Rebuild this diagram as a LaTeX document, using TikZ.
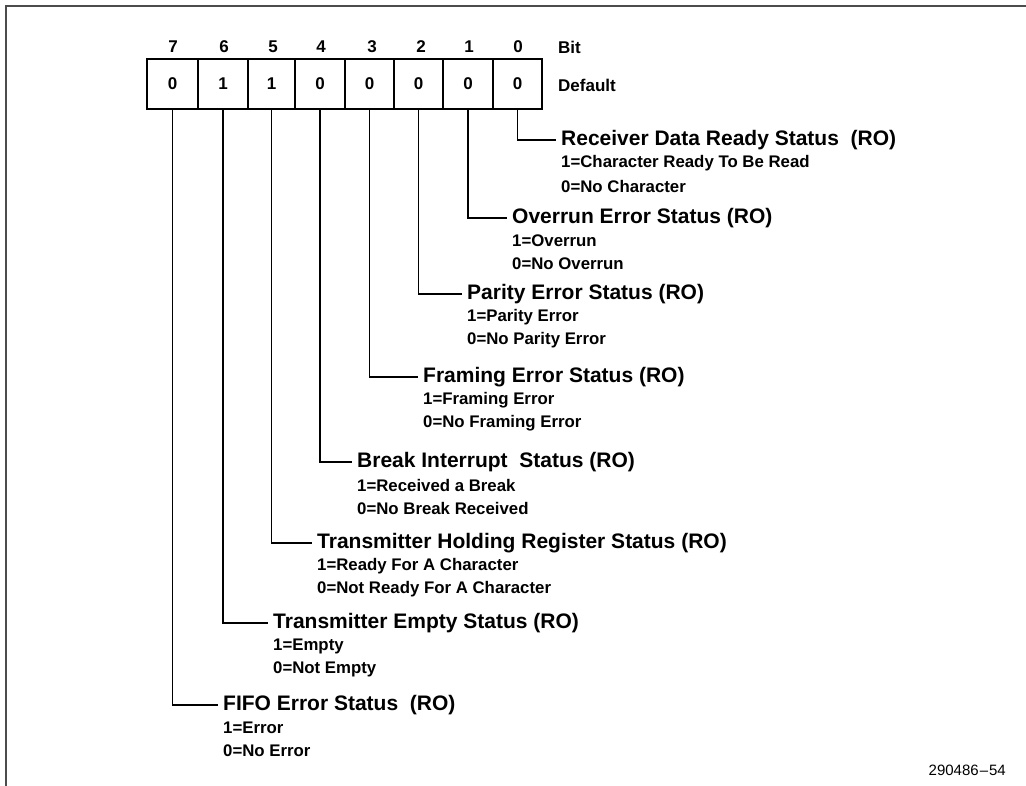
\documentclass[tikz,border=0pt]{standalone}
\usepackage{fontspec}
\setmainfont{Liberation Sans}
\begin{document}
\begin{tikzpicture}[x=1pt,y=-1pt,
  cell/.style={draw,line width=1.8pt,minimum height=50pt,inner sep=0pt,font=\fontsize{17}{17}\selectfont\bfseries},
  hdr/.style={font=\fontsize{17}{17}\selectfont\bfseries,inner sep=0pt},
  ttl/.style={anchor=west,font=\fontsize{21}{21}\selectfont\bfseries,inner xsep=5pt,inner ysep=0pt},
  sub/.style={anchor=west,font=\fontsize{16.8}{17}\selectfont\bfseries,inner sep=0pt},
  lead/.style={line width=1.5pt},
  frame/.style={line width=2pt,draw=black!70}]
\useasboundingbox (0,0) rectangle (1026,786);
\draw[frame] (6,786) -- (6,6.5) -- (1026,6.5);
% cells
\node[cell,minimum width=51pt] (c7) at (172.5,84) {0};
\node[cell,minimum width=50pt] (c6) at (223,84) {1};
\node[cell,minimum width=47pt] (c5) at (271.5,84) {1};
\node[cell,minimum width=50pt] (c4) at (320,84) {0};
\node[cell,minimum width=49pt] (c3) at (369.5,84) {0};
\node[cell,minimum width=49pt] (c2) at (418.5,84) {0};
\node[cell,minimum width=50pt] (c1) at (468,84) {0};
\node[cell,minimum width=49pt] (c0) at (517.5,84) {0};
% bit numbers
\node[hdr] (b7) at (173,47) {7};
\node[hdr] (b6) at (224,47) {6};
\node[hdr] (b5) at (273,47) {5};
\node[hdr] (b4) at (321,47) {4};
\node[hdr] (b3) at (372,47) {3};
\node[hdr] (b2) at (421,47) {2};
\node[hdr] (b1) at (469,47) {1};
\node[hdr] (b0) at (518,47) {0};
\node[hdr,anchor=west] (bit) at (558,47) {Bit};
\node[hdr,anchor=west] (def) at (558,85) {Default};
% descriptions
\node[ttl] (t0) at (556,140) {Receiver Data Ready Status\ \ (RO)};
\node[sub] (s0a) at (561,163) {1=Character Ready To Be Read};
\node[sub] (s0b) at (561,186) {0=No Character};
\node[ttl] (t1) at (507,218) {Overrun Error Status (RO)};
\node[sub] (s1a) at (512,241) {1=Overrun};
\node[sub] (s1b) at (512,264) {0=No Overrun};
\node[ttl] (t2) at (462,294) {Parity Error Status (RO)};
\node[sub] (s2a) at (467,317) {1=Parity Error};
\node[sub] (s2b) at (467,340) {0=No Parity Error};
\node[ttl] (t3) at (418,377) {Framing Error Status (RO)};
\node[sub] (s3a) at (423,400) {1=Framing Error};
\node[sub] (s3b) at (423,423) {0=No Framing Error};
\node[ttl] (t4) at (352,462) {Break Interrupt\ \ Status (RO)};
\node[sub] (s4a) at (357,485) {1=Received a Break};
\node[sub] (s4b) at (357,508) {0=No Break Received};
\node[ttl] (t5) at (312,543) {Transmitter Holding Register Status (RO)};
\node[sub] (s5a) at (317,566) {1=Ready For A Character};
\node[sub] (s5b) at (317,589) {0=Not Ready For A Character};
\node[ttl] (t6) at (268,623) {Transmitter Empty Status (RO)};
\node[sub] (s6a) at (273,646) {1=Empty};
\node[sub] (s6b) at (273,669) {0=Not Empty};
\node[ttl] (t7) at (218,705) {FIFO Error Status\ \ (RO)};
\node[sub] (s7a) at (223,728) {1=Error};
\node[sub] (s7b) at (223,751) {0=No Error};
% leaders
\foreach \i in {0,...,7}{
  \draw[lead] (c\i.south) |- (t\i.west);
}
\node[anchor=east,font=\fontsize{15}{15}\selectfont,inner sep=0pt] (fig) at (1006,770) {290486\kern1pt –\kern1pt 54};
\end{tikzpicture}
\end{document}
